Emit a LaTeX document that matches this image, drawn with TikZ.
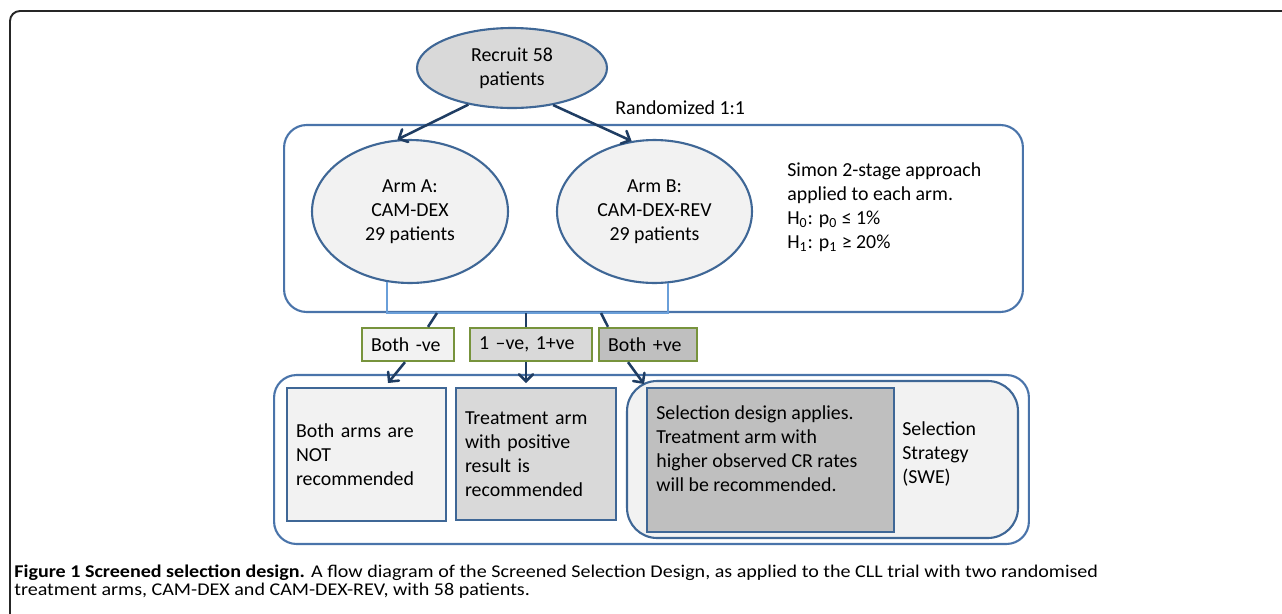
\documentclass[tikz,border=0pt]{standalone}
\usepackage{fontspec}
\setmainfont{Carlito}
\newfontfamily\capfont[FakeStretch=1.12]{Carlito}
\usetikzlibrary{arrows,shapes,positioning,calc}
\definecolor{lineblue}{HTML}{3F6796}
\definecolor{panelblue}{HTML}{4A74AA}
\definecolor{forkblue}{HTML}{6A9FD9}
\definecolor{arrownavy}{HTML}{1F3D63}
\definecolor{oliveline}{HTML}{77933C}
\definecolor{greyA}{HTML}{F2F2F2}
\definecolor{greyB}{HTML}{D9D9D9}
\definecolor{greyC}{HTML}{BFBFBF}

\begin{document}
\begin{tikzpicture}[x=0.02cm,y=-0.02cm,>=angle 90,
font=\fontsize{11.3}{13.7}\selectfont,
oval/.style={ellipse,draw=lineblue,line width=1.2pt,inner sep=0pt,align=center},
panel/.style={rectangle,rounded corners=0.45cm,draw=panelblue,line width=1.2pt,inner sep=0pt},
result/.style={rectangle,draw=lineblue,line width=1.2pt,inner xsep=0.18cm,align=left},
outcome/.style={rectangle,draw=oliveline,line width=1.3pt,inner xsep=0.18cm,
  minimum height=0.66cm,align=left},
plain/.style={anchor=west,align=left,inner sep=0pt},
link/.style={color=arrownavy,line width=1.45pt}]
\useasboundingbox (0,0) rectangle (1282,613);
\draw[line width=1.1pt,draw=black!85,rounded corners=0.2cm] (10,640) -- (10,11) -- (1300,11);

\node[panel,minimum width=14.78cm,minimum height=3.74cm] (upper) at (653.5,218.5) {};
\node[panel,minimum width=15.1cm,minimum height=3.38cm] (lower) at (651.5,459.5) {};
\node[panel,draw=lineblue,fill=greyA,rounded corners=0.6cm,
  minimum width=7.82cm,minimum height=3.14cm] (sweBox) at (822.5,459.5) {};

\node[oval,fill=greyB,minimum width=3.8cm,minimum height=1.6cm] (recruit) at (512,68) {Recruit 58\\patients};
\node[plain] (rand) at (615,108) {Randomized 1:1};
\node[oval,fill=greyA,minimum width=3.92cm,minimum height=2.86cm] (armA) at (410,211.5) {Arm A:\\CAM-DEX\\29 patients};
\node[oval,fill=greyA,minimum width=3.9cm,minimum height=2.86cm] (armB) at (654.5,211.5) {Arm B:\\CAM-DEX-REV\\29 patients};
\node[plain] (simon) at (787,207) {Simon 2-stage approach\\applied to each arm.\\
  H\textsubscript{0}: p\textsubscript{0} ≤ 1\%\\H\textsubscript{1}: p\textsubscript{1} ≥ 20\%};

\node[outcome,fill=greyA,text width=1.48cm] (bothNeg) at (408,344.5) {Both -ve};
\node[outcome,fill=greyB,text width=2.08cm] (oneNeg) at (531,344.5) {1 –ve, 1+ve};
\node[outcome,fill=greyC,text width=1.6cm] (bothPos) at (648,344.5) {Both +ve};

\node[result,fill=greyA,text width=2.82cm,minimum height=2.66cm] (notRec) at (366.5,454.5) {Both arms are\\NOT\\recommended};
\node[result,fill=greyB,text width=2.84cm,minimum height=2.64cm] (armRec) at (536,454) {Treatment arm\\with positive\\result is\\recommended};
\node[result,fill=greyC,minimum width=4.94cm,minimum height=2.88cm] (selRec) at (770.5,460) {};
\node[plain] (selText) at (656,449) {Selection design applies.\\Treatment arm with\\higher observed CR rates\\will be recommended.};
\node[plain] (swe) at (902,454) {Selection\\Strategy\\(SWE)};

\coordinate (fork) at (527,313);
\coordinate (f1) at (437,313);
\coordinate (f2) at (526,313);
\coordinate (f3) at (601,313);
\coordinate (e1) at (388,383);
\coordinate (e2) at (526,383);
\coordinate (e3) at (644,384);

\draw[draw=forkblue,line width=1.1pt] (armA.252) |- (fork) -| (armB.281);
\path[->,link]
(recruit.220) edge (armA.100)
(recruit.318) edge (armB.108);
\path[link]
(f1) edge ($(bothNeg.north)+(20,0)$)
(f2) edge ($(oneNeg.north)+(-5,0)$)
(f3) edge ($(bothPos.north)+(-40,0)$);
\path[->,link]
($(bothNeg.south)+(-3,0)$) edge (e1)
($(oneNeg.south)+(-5,0)$) edge (e2)
($(bothPos.south)+(-20,0)$) edge (e3);

\node[anchor=north west,align=left,inner sep=0pt,font=\capfont\fontsize{10.2}{9.8}\selectfont] (caption) at (14,565)
{\textbf{Figure 1 Screened selection design.} A flow diagram of the Screened Selection Design, as applied to the CLL trial with two randomised\\
treatment arms, CAM-DEX and CAM-DEX-REV, with 58 patients.};
\end{tikzpicture}
\end{document}
